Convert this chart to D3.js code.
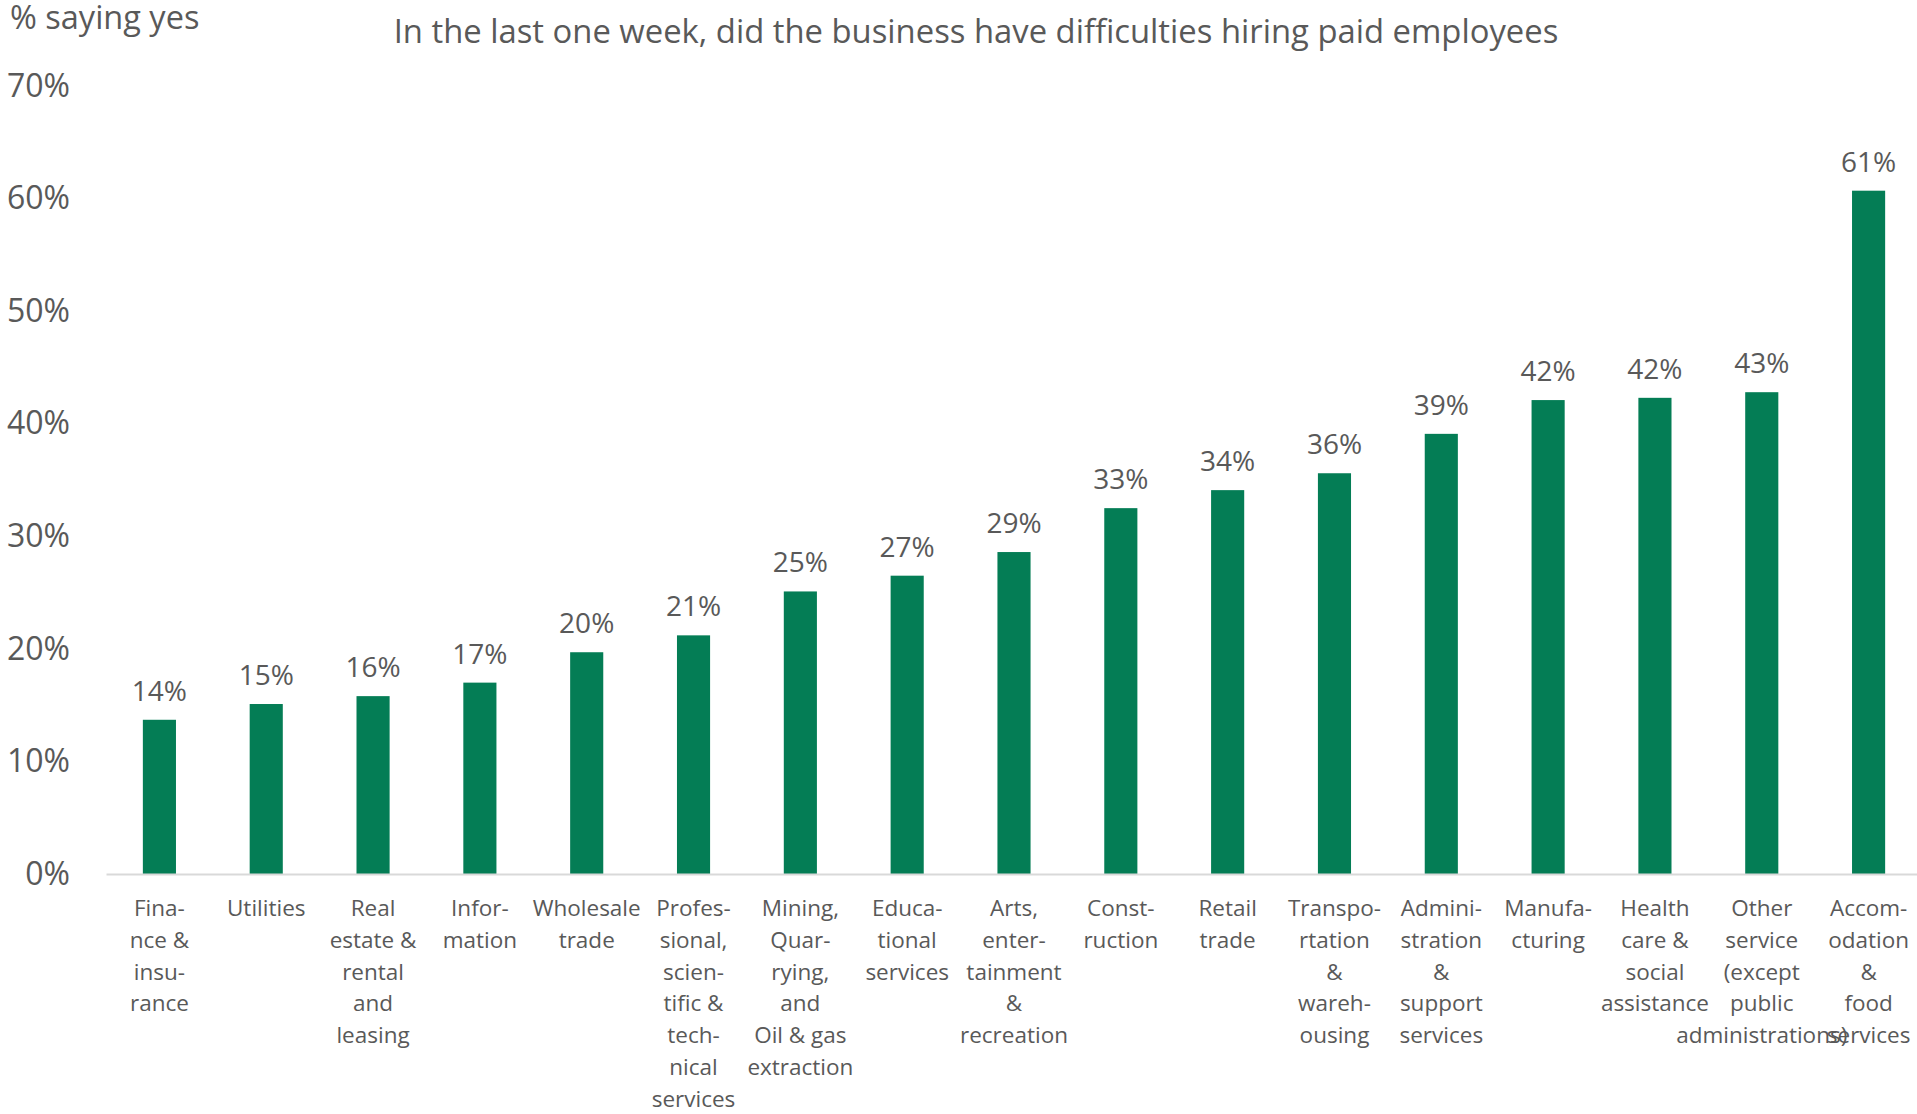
<!DOCTYPE html>
<html>
<head>
<meta charset="utf-8">
<script src="https://cdn.jsdelivr.net/npm/d3@7"></script>
<style>
  html, body { margin: 0; padding: 0; background: #ffffff; }
  svg text { font-family: "Open Sans", "Noto Sans", sans-serif; fill: #595959; }
</style>
</head>
<body>
<div id="chart"></div>
<script>
/* global d3 */

var W = 1917, H = 1114;

// industries, sorted as in the chart
var categories = [
	"Finance & insurance", "Utilities", "Real estate & rental and leasing", "Information",
	"Wholesale trade", "Professional, scientific & technical services",
	"Mining, Quarrying, and Oil & gas extraction", "Educational services",
	"Arts, entertainment & recreation", "Construction", "Retail trade",
	"Transportation & warehousing", "Administration & support services", "Manufacturing",
	"Health care & social assistance", "Other service (except public administrations)",
	"Accommodation & food services"
];

// how the labels are broken under each bar
var labelLines = [
	["Fina-", "nce &", "insu-", "rance"],
	["Utilities"],
	["Real", "estate &", "rental", "and", "leasing"],
	["Infor-", "mation"],
	["Wholesale", "trade"],
	["Profes-", "sional,", "scien-", "tific &", "tech-", "nical", "services"],
	["Mining,", "Quar-", "rying,", "and", "Oil & gas", "extraction"],
	["Educa-", "tional", "services"],
	["Arts,", "enter-", "tainment", "&", "recreation"],
	["Const-", "ruction"],
	["Retail", "trade"],
	["Transpo-", "rtation", "&", "wareh-", "ousing"],
	["Admini-", "stration", "&", "support", "services"],
	["Manufa-", "cturing"],
	["Health", "care &", "social", "assistance"],
	["Other", "service", "(except", "public", "administrations)"],
	["Accom-", "odation", "&", "food", "services"]
];

// share saying yes (%)
var values = [13.7, 15.1, 15.8, 17.0, 19.7, 21.2, 25.1, 26.5, 28.6, 32.5, 34.1, 35.6, 39.1, 42.1, 42.3, 42.8, 60.7];

var yTicks = [0, 10, 20, 30, 40, 50, 60, 70];

var title = "In the last one week, did the business have difficulties hiring paid employees";
var yLabel = "% saying yes";

var margin = { left: 106, right: -5, top: 86, bottom: 240 };

var svg = d3.select('#chart')
  .append('svg')
	.attr('width', W)
	.attr('height', H);

var x = d3.scaleBand()
	.domain(categories)
	.range([margin.left, W - margin.right])
	.paddingInner(0.69)
	.paddingOuter(0.345);

var y = d3.scaleLinear()
	.domain([0, 70])
	.range([H - margin.bottom, margin.top]);

//* Y AXIS (labels only)
svg.append('g')
	.attr('transform', 'translate(70,0)')
	.call(d3.axisLeft(y).tickValues(yTicks).tickSize(0).tickPadding(0)
		.tickFormat(function(d){ return d + '%'; }))
	.call(function(g){ g.select('.domain').remove(); })
	.selectAll('text')
	.attr('font-size', 32)
	.style('fill', '#595959');

//* BARS
svg.append('g').selectAll('rect')
	.data(values)
	.enter().append('rect')
	.attr('x', function(d, i){ return x(categories[i]); })
	.attr('y', function(d){ return y(d); })
	.attr('width', x.bandwidth())
	.attr('height', function(d){ return y(0) - y(d); })
	.attr('fill', '#047d55');

//* X AXIS
var xAxis = svg.append('g')
	.attr('transform', 'translate(0,' + y(0) + ')')
	.call(d3.axisBottom(x).tickSize(0).tickFormat(''));

xAxis.select('.domain')
	.attr('stroke', '#d9d9d9')
	.attr('stroke-width', 2);

xAxis.selectAll('.tick text').remove();

xAxis.selectAll('.tick')
	.append('text')
	.attr('font-size', 22.5)
	.style('text-anchor', 'middle')
	.each(function(d, i){
		var t = d3.select(this);
		labelLines[i].forEach(function(line, k){
			t.append('tspan')
				.attr('x', 0)
				.attr('y', 42 + k * 31.8)
				.text(line);
		});
	});

//* VALUE LABELS
svg.append('g').selectAll('text')
	.data(values)
	.enter().append('text')
	.attr('x', function(d, i){ return x(categories[i]) + x.bandwidth() / 2; })
	.attr('y', function(d){ return y(d) - 19; })
	.attr('font-size', 28)
	.style('text-anchor', 'middle')
	.text(function(d){ return Math.round(d) + '%'; });

//* TITLES
svg.append('text')
	.attr('x', 976)
	.attr('y', 43)
	.attr('font-size', 32.8)
	.style('text-anchor', 'middle')
	.text(title);

svg.append('text')
	.attr('x', 10)
	.attr('y', 29)
	.attr('font-size', 32.5)
	.text(yLabel);
</script>
</body>
</html>
